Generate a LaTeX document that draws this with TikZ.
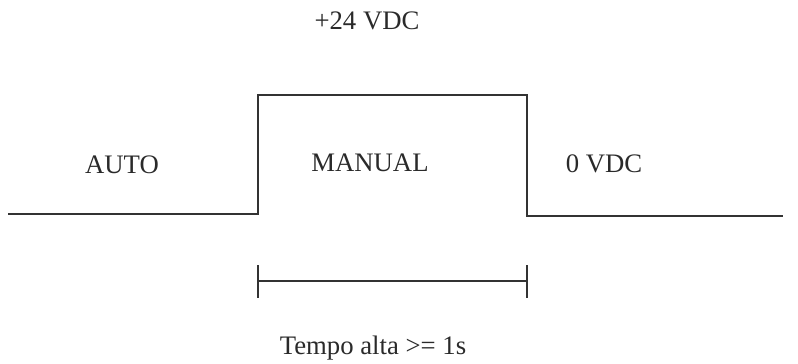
\documentclass[tikz,border=0pt]{standalone}
\usepackage{fontspec}
\setmainfont{Liberation Serif}
\usetikzlibrary{positioning, calc}
\definecolor{cwave}{HTML}{333333}
\definecolor{ctext}{HTML}{2A2A2A}
\tikzset{
  every picture/.style={line width=1.4pt},
  wave/.style={draw=cwave, line width=1.4pt},
  lbl/.style={font=\fontsize{19}{22}\selectfont, text=ctext, inner sep=0pt},
}
\begin{document}
\begin{tikzpicture}[x=0.025cm, y=-0.025cm]
  \useasboundingbox (0,0) rectangle (798,363);
  % signal levels
  \coordinate (lowL)  at (8,214);
  \coordinate (riseB) at (258,214);
  \coordinate (riseT) at (258,95);
  \coordinate (fallT) at (527,95);
  \coordinate (fallB) at (527,216);
  \coordinate (lowR)  at (783,216);
  \draw[wave] (lowL) -- (riseB) -- (riseT) -- (fallT) -- (fallB) -- (lowR);
  % duration bracket
  \coordinate (brL) at (258,281);
  \coordinate (brR) at (527,281);
  \draw[wave] (brL) -- (brR);
  \draw[wave] ($(brL)+(0,-16)$) -- ($(brL)+(0,17)$);
  \draw[wave] ($(brR)+(0,-16)$) -- ($(brR)+(0,17)$);
  % texts
  \node[lbl] (vhigh) at (367,21) {+24 VDC};
  \node[lbl] (auto) at (122,165) {AUTO};
  \node[lbl] (manual) at (370,163) {MANUAL};
  \node[lbl] (vlow) at (604,164) {0 VDC};
  \node[lbl] (tempo) at (373,348) {Tempo alta >= 1s};
\end{tikzpicture}
\end{document}
